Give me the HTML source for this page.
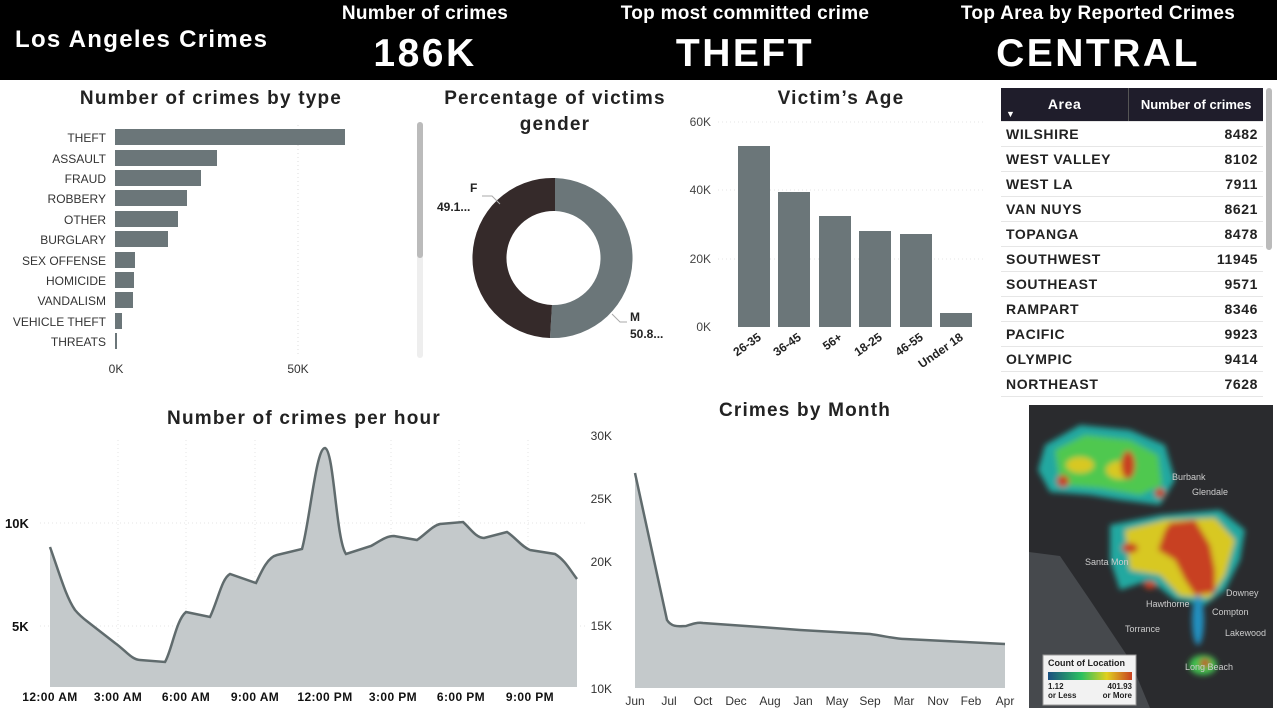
<!DOCTYPE html>
<html><head><meta charset="utf-8"><style>
body{margin:0;width:1277px;height:712px;overflow:hidden;background:#fff;font-family:"Liberation Sans",sans-serif;position:relative}
.hdr{position:absolute;left:0;top:0;width:1277px;height:80px;background:#000}
.t{position:absolute;color:#fff;font-weight:bold;white-space:nowrap;transform:translateX(-50%)}
table{position:absolute;left:1001px;top:88px;width:262px;border-collapse:collapse;font-size:14px;font-weight:bold;color:#222;letter-spacing:0.6px}
td{height:24px;border-bottom:1px solid #e6e6e6;padding:0 5px}
td.n{text-align:right}
</style></head><body>
<div class="hdr"></div>
<div style="position:absolute;left:15px;top:26px;color:#fff;font-weight:bold;font-size:24px;letter-spacing:1.3px">Los Angeles Crimes</div>
<div class="t" style="left:425px;top:3px;font-size:19px;letter-spacing:0.3px">Number of crimes</div>
<div class="t" style="left:425px;top:32px;font-size:39px;letter-spacing:2.5px">186K</div>
<div class="t" style="left:745px;top:3px;font-size:19px;letter-spacing:0.3px">Top most committed crime</div>
<div class="t" style="left:745px;top:32px;font-size:39px;letter-spacing:2.5px">THEFT</div>
<div class="t" style="left:1098px;top:3px;font-size:19px;letter-spacing:0.3px">Top Area by Reported Crimes</div>
<div class="t" style="left:1098px;top:32px;font-size:39px;letter-spacing:2.5px">CENTRAL</div>

<svg style="position:absolute;left:0;top:0" width="1277" height="712" font-family="Liberation Sans, sans-serif">
<g font-weight="bold" fill="#222" text-anchor="middle" font-size="19" letter-spacing="1.2">
<text x="211" y="104">Number of crimes by type</text>
<text x="555" y="104">Percentage of victims</text>
<text x="555" y="130">gender</text>
<text x="841" y="104">Victim’s Age</text>
<text x="304" y="424">Number of crimes per hour</text>
<text x="805" y="416">Crimes by Month</text>
</g>
<line x1="298" y1="125" x2="298" y2="355" stroke="#ddd" stroke-dasharray="1,3"/>
<g fill="#6b7679">
<rect x="115" y="129" width="230" height="16"/><rect x="115" y="150" width="102" height="16"/>
<rect x="115" y="170" width="86" height="16"/><rect x="115" y="190" width="72" height="16"/>
<rect x="115" y="211" width="63" height="16"/><rect x="115" y="231" width="53" height="16"/>
<rect x="115" y="252" width="20" height="16"/><rect x="115" y="272" width="19" height="16"/>
<rect x="115" y="292" width="18" height="16"/><rect x="115" y="313" width="7" height="16"/>
<rect x="115" y="333" width="2" height="16"/></g>
<g font-size="12" fill="#333" text-anchor="end">
<text x="106" y="142">THEFT</text><text x="106" y="163">ASSAULT</text><text x="106" y="183">FRAUD</text>
<text x="106" y="203">ROBBERY</text><text x="106" y="224">OTHER</text><text x="106" y="244">BURGLARY</text>
<text x="106" y="265">SEX OFFENSE</text><text x="106" y="285">HOMICIDE</text><text x="106" y="305">VANDALISM</text>
<text x="106" y="326">VEHICLE THEFT</text><text x="106" y="346">THREATS</text></g>
<g font-size="12" fill="#333" text-anchor="middle"><text x="116" y="373">0K</text><text x="298" y="373">50K</text></g>
<rect x="417" y="122" width="6" height="236" rx="3" fill="#eee"/><rect x="417" y="122" width="6" height="136" rx="3" fill="#bbb"/>
<path d="M555,178 A80,80 0 0 1 550,338 L552,305 A47,47 0 0 0 555,211 Z" fill="#6b7679"/>
<path d="M550,338 A80,80 0 0 1 555,178 L555,211 A47,47 0 0 0 552,305 Z" fill="#352a2a"/>
<g font-size="12" font-weight="bold" fill="#222">
<text x="470" y="192">F</text><text x="437" y="211">49.1...</text>
<text x="630" y="321">M</text><text x="630" y="338">50.8...</text></g>
<polyline points="482,196 492,196 500,204" fill="none" stroke="#aaa"/>
<polyline points="612,314 620,322 627,322" fill="none" stroke="#aaa"/>
<g stroke="#e4e4e4" stroke-dasharray="1,3"><line x1="718" y1="122" x2="985" y2="122"/><line x1="718" y1="190" x2="985" y2="190"/><line x1="718" y1="259" x2="985" y2="259"/></g>
<g font-size="12" fill="#444" text-anchor="end"><text x="711" y="126">60K</text><text x="711" y="194">40K</text><text x="711" y="263">20K</text><text x="711" y="331">0K</text></g>
<g fill="#6b7679"><rect x="738" y="146" width="32" height="181"/><rect x="778" y="192" width="32" height="135"/>
<rect x="819" y="216" width="32" height="111"/><rect x="859" y="231" width="32" height="96"/>
<rect x="900" y="234" width="32" height="93"/><rect x="940" y="313" width="32" height="14"/></g>
<g font-size="12" font-weight="bold" fill="#222" text-anchor="end">
<text transform="translate(762,339) rotate(-35)">26-35</text><text transform="translate(802,339) rotate(-35)">36-45</text>
<text transform="translate(843,339) rotate(-35)">56+</text><text transform="translate(883,339) rotate(-35)">18-25</text>
<text transform="translate(924,339) rotate(-35)">46-55</text><text transform="translate(964,339) rotate(-35)">Under 18</text></g>
<g stroke="#e4e4e4" stroke-dasharray="1,3"><line x1="40" y1="523" x2="585" y2="523"/><line x1="40" y1="626" x2="585" y2="626"/>
<line x1="118" y1="440" x2="118" y2="687"/><line x1="186" y1="440" x2="186" y2="687"/><line x1="255" y1="440" x2="255" y2="687"/><line x1="391" y1="440" x2="391" y2="687"/><line x1="459" y1="440" x2="459" y2="687"/><line x1="528" y1="440" x2="528" y2="687"/></g>
<path d="M50,547 C60,575 66,597 75,610 C80,616 84,619 88,622 L115,643 C125,650 132,660 140,660 L165,662 C172,650 176,620 186,612 L210,617 C218,600 222,578 230,574 L256,583 C262,570 268,557 277,555 L302,549 C310,520 316,448 325,448 C334,450 336,540 346,554 L371,546 C380,541 386,536 394,536 L417,540 C426,534 432,526 440,524 L463,522 C470,528 476,538 484,538 L507,532 C516,538 522,547 530,550 L555,554 C565,560 570,570 577,579 L577,687 L50,687 Z" fill="#c4c9cb" stroke="none"/>
<path d="M50,547 C60,575 66,597 75,610 C80,616 84,619 88,622 L115,643 C125,650 132,660 140,660 L165,662 C172,650 176,620 186,612 L210,617 C218,600 222,578 230,574 L256,583 C262,570 268,557 277,555 L302,549 C310,520 316,448 325,448 C334,450 336,540 346,554 L371,546 C380,541 386,536 394,536 L417,540 C426,534 432,526 440,524 L463,522 C470,528 476,538 484,538 L507,532 C516,538 522,547 530,550 L555,554 C565,560 570,570 577,579" fill="none" stroke="#606b6d" stroke-width="2.5"/>
<g font-size="13" font-weight="bold" fill="#111"><text x="5" y="528">10K</text><text x="12" y="631">5K</text></g>
<g font-size="12" font-weight="bold" fill="#111" text-anchor="middle" letter-spacing="0.4">
<text x="50" y="701">12:00 AM</text><text x="118" y="701">3:00 AM</text><text x="186" y="701">6:00 AM</text><text x="255" y="701">9:00 AM</text>
<text x="325" y="701">12:00 PM</text><text x="393" y="701">3:00 PM</text><text x="461" y="701">6:00 PM</text><text x="530" y="701">9:00 PM</text></g>
<path d="M635,473 L667,620 C672,628 680,626 686,626 C692,624 698,622 703,623 L760,627 L800,630 L870,634 C885,636 895,639 905,639 L1005,644 L1005,688 L635,688 Z" fill="#c4c9cb"/>
<path d="M635,473 L667,620 C672,628 680,626 686,626 C692,624 698,622 703,623 L760,627 L800,630 L870,634 C885,636 895,639 905,639 L1005,644" fill="none" stroke="#606b6d" stroke-width="2.5"/>
<g font-size="12" fill="#333" text-anchor="end"><text x="612" y="440">30K</text><text x="612" y="503">25K</text><text x="612" y="566">20K</text><text x="612" y="630">15K</text><text x="612" y="693">10K</text></g>
<g font-size="12" fill="#333" text-anchor="middle">
<text x="635" y="705">Jun</text><text x="669" y="705">Jul</text><text x="703" y="705">Oct</text><text x="736" y="705">Dec</text>
<text x="770" y="705">Aug</text><text x="803" y="705">Jan</text><text x="837" y="705">May</text><text x="870" y="705">Sep</text>
<text x="904" y="705">Mar</text><text x="938" y="705">Nov</text><text x="971" y="705">Feb</text><text x="1005" y="705">Apr</text></g>
<defs><filter id="b"><feGaussianBlur stdDeviation="3"/></filter>
<linearGradient id="lg"><stop offset="0" stop-color="#1a4f80"/><stop offset=".4" stop-color="#2cc060"/><stop offset=".7" stop-color="#e0d020"/><stop offset="1" stop-color="#c84020"/></linearGradient></defs>
<rect x="1029" y="405" width="244" height="303" fill="#2a2b2e"/>
<path d="M1029,552 L1060,556 L1090,600 L1110,630 L1130,660 L1150,708 L1029,708 Z" fill="#46494d"/>
<g filter="url(#b)">
<path d="M1045,445 L1080,425 L1130,430 L1165,445 L1175,480 L1160,505 L1120,500 L1090,495 L1050,492 L1038,470 Z" fill="#20a8a0"/>
<path d="M1055,450 L1085,435 L1130,440 L1158,455 L1162,485 L1140,495 L1100,488 L1060,485 Z" fill="#50c850"/>
<ellipse cx="1080" cy="465" rx="14" ry="8" fill="#d8c820"/><ellipse cx="1120" cy="470" rx="14" ry="9" fill="#d8c820"/>
<ellipse cx="1128" cy="465" rx="7" ry="14" fill="#c84020"/>
<ellipse cx="1063" cy="481" rx="6" ry="6" fill="#c84020"/>
<ellipse cx="1160" cy="493" rx="5" ry="5" fill="#c84020"/>
<path d="M1110,525 L1160,515 L1220,510 L1245,530 L1240,560 L1225,590 L1205,605 L1175,600 L1150,580 L1120,590 L1110,560 Z" fill="#20a8a0"/>
<path d="M1125,530 L1165,520 L1215,518 L1235,540 L1225,575 L1210,598 L1180,596 L1160,575 L1130,570 Z" fill="#d8c820"/>
<path d="M1170,523 L1195,520 L1210,545 L1215,570 L1215,592 L1195,595 L1185,580 L1175,560 L1158,550 L1165,530 Z" fill="#c84020"/>
<ellipse cx="1130" cy="548" rx="8" ry="5" fill="#c84020"/>
<ellipse cx="1150" cy="585" rx="6" ry="4" fill="#c84020"/>
<ellipse cx="1198" cy="620" rx="6" ry="25" fill="#2090c0"/>
<ellipse cx="1203" cy="665" rx="14" ry="10" fill="#40c050"/>
<ellipse cx="1205" cy="663" rx="5" ry="4" fill="#c84020"/>
</g>
<g font-size="9" fill="#ccc"><text x="1172" y="480">Burbank</text><text x="1192" y="495">Glendale</text><text x="1226" y="596">Downey</text><text x="1212" y="615">Compton</text><text x="1225" y="636">Lakewood</text><text x="1146" y="607">Hawthorne</text><text x="1125" y="632">Torrance</text><text x="1085" y="565">Santa Mon</text><text x="1185" y="670">Long Beach</text></g>
<rect x="1043" y="655" width="93" height="50" fill="#f2f2f2" stroke="#999"/>
<text x="1048" y="666" font-size="9" font-weight="bold" fill="#222">Count of Location</text>
<rect x="1048" y="672" width="84" height="8" fill="url(#lg)"/>
<g font-size="8" font-weight="bold" fill="#222"><text x="1048" y="689">1.12</text><text x="1048" y="698">or Less</text><text x="1132" y="689" text-anchor="end">401.93</text><text x="1132" y="698" text-anchor="end">or More</text></g>
<rect x="1266" y="88" width="6" height="162" rx="3" fill="#bbb"/>
</svg>
<table>
<tr style="background:#1f1d2b;color:#fff;height:33px"><td style="text-align:center;border-right:1px solid #555;position:relative">Area<span style="position:absolute;left:5px;bottom:2px;font-size:9px">▼</span></td><td style="text-align:center;font-size:13px;letter-spacing:0">Number of crimes</td></tr>
<tr><td>WILSHIRE</td><td class="n">8482</td></tr>
<tr><td>WEST VALLEY</td><td class="n">8102</td></tr>
<tr><td>WEST LA</td><td class="n">7911</td></tr>
<tr><td>VAN NUYS</td><td class="n">8621</td></tr>
<tr><td>TOPANGA</td><td class="n">8478</td></tr>
<tr><td>SOUTHWEST</td><td class="n">11945</td></tr>
<tr><td>SOUTHEAST</td><td class="n">9571</td></tr>
<tr><td>RAMPART</td><td class="n">8346</td></tr>
<tr><td>PACIFIC</td><td class="n">9923</td></tr>
<tr><td>OLYMPIC</td><td class="n">9414</td></tr>
<tr><td>NORTHEAST</td><td class="n">7628</td></tr>
</table>
</body></html>
